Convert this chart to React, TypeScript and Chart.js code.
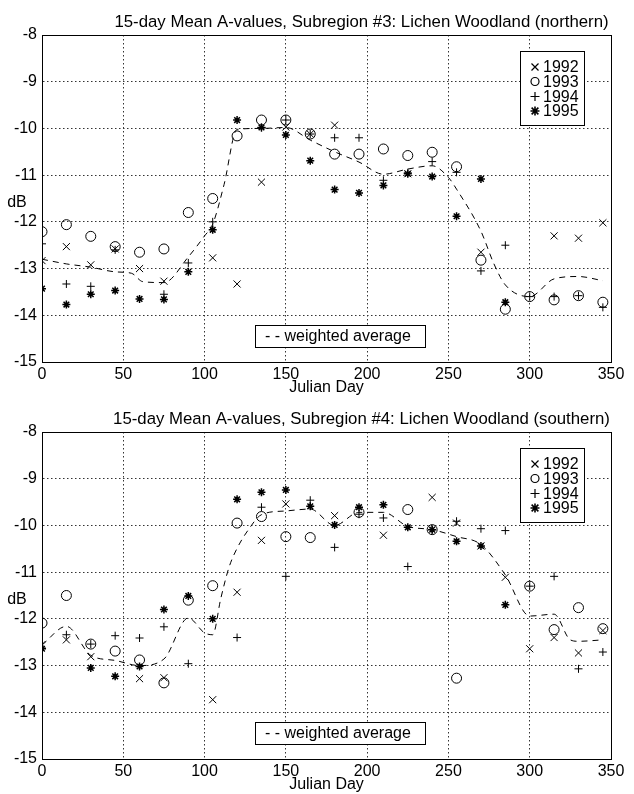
import React, { useEffect, useRef } from "react";
import { Chart, registerables } from "chart.js";
Chart.register(...registerables);

const FONT = '"Liberation Sans", Arial, Helvetica, sans-serif';

const DAYS = [0, 15, 30, 45, 60, 75, 90, 105, 120, 135, 150, 165, 180, 195, 210, 225, 240, 255, 270, 285, 300, 315, 330, 345];
const X_TICKS = [0, 50, 100, 150, 200, 250, 300, 350];
const Y_TICKS = [-8, -9, -10, -11, -12, -13, -14, -15];
const YEARS = ["1992", "1993", "1994", "1995"];

const TITLE_3 = "15-day Mean A-values, Subregion #3: Lichen Woodland (northern)";
const TITLE_4 = "15-day Mean A-values, Subregion #4: Lichen Woodland (southern)";

// Subregion #3
const S3_1992 = [-12.83, -12.53, -12.92, -12.58, -13.0, -13.27, null, -12.77, -13.33, -11.15, -9.97, -10.12, -9.93, null, null, -10.97, null, null, -12.65, null, null, -12.3, -12.35, -12.02];
const S3_1993 = [-12.21, -12.06, -12.31, -12.53, -12.65, -12.58, -11.8, -11.5, -10.16, -9.82, -9.82, -10.12, -10.55, -10.55, -10.44, -10.58, -10.51, -10.82, -12.82, -13.87, -13.6, -13.67, -13.58, -13.72];
const S3_1994 = [-12.47, -13.33, -13.38, -12.6, null, -13.55, -12.88, -12.0, null, -9.98, -9.82, -10.12, -10.2, -10.2, -11.11, -10.95, -10.71, -10.94, -13.05, -12.5, -13.6, -13.6, -13.58, -13.83];
const S3_1995 = [-13.43, -13.77, -13.55, -13.47, -13.65, -13.66, -13.07, -12.17, -9.82, -9.98, -10.14, -10.69, -11.31, -11.38, -11.22, -10.97, -11.03, -11.88, -11.08, -13.72, null, null, null, null];
const S3_AVG_DAYS = [0, 15, 30, 45, 55, 62, 75, 90, 100, 105, 112, 120, 135, 150, 165, 180, 195, 210, 225, 240, 250, 255, 270, 278, 285, 300, 315, 330, 345];
const S3_AVG = [-12.8, -12.9, -12.97, -13.07, -13.1, -13.28, -13.3, -12.75, -12.3, -12.05, -11.2, -10.02, -10.0, -9.98, -10.25, -10.5, -10.72, -10.98, -10.87, -10.8, -11.05, -11.3, -12.2, -12.9, -13.35, -13.6, -13.22, -13.17, -13.26];

// Subregion #4
const S4_1992 = [-12.55, -12.45, -12.81, null, -13.28, -13.26, null, -13.73, -11.43, -10.32, -9.54, null, -9.79, null, -10.21, null, -9.4, -9.95, -10.44, -11.11, -12.64, -12.4, -12.73, -12.25];
const S4_1993 = [-12.09, -11.5, -12.54, -12.69, -12.88, -13.37, -11.6, -11.29, -9.95, -9.81, -10.24, -10.26, null, -9.72, null, -9.66, -10.09, -13.27, null, null, -11.3, -12.23, -11.76, -12.21];
const S4_1994 = [null, -12.34, -12.54, -12.36, -12.41, -12.17, -12.96, null, -12.4, -9.61, -11.09, -9.46, -10.47, -9.76, -9.84, -10.88, -10.09, -9.91, -10.07, -10.11, -11.3, -11.09, -13.07, -12.71];
const S4_1995 = [-12.64, null, -13.05, -13.23, -13.02, -11.8, -11.51, -12.0, -9.44, -9.29, -9.24, -9.59, -9.99, -9.61, -9.56, -10.04, -10.09, -10.34, -10.44, -11.7, null, null, null, null];
const S4_AVG_DAYS = [0, 15, 30, 45, 60, 75, 90, 100, 105, 110, 115, 120, 127, 135, 150, 165, 180, 195, 210, 225, 240, 255, 270, 285, 300, 315, 325, 330, 345];
const S4_AVG = [-12.56, -12.16, -12.78, -12.89, -13.0, -12.86, -11.98, -12.3, -12.34, -11.56, -10.9, -10.49, -10.09, -9.77, -9.69, -9.65, -10.0, -9.72, -9.72, -10.02, -10.09, -10.24, -10.41, -11.06, -11.94, -11.9, -12.45, -12.48, -12.45];

const STYLES = ["crossRot", "circle", "cross", "star"];
const RADII = [5, 5, 4, 4];

function drawMarker(ctx: CanvasRenderingContext2D, style: string, x: number, y: number, r: number) {
  ctx.beginPath();
  if (style === "circle") {
    ctx.arc(x, y, r, 0, Math.PI * 2);
  } else {
    if (style === "cross" || style === "star") {
      ctx.moveTo(x - r, y); ctx.lineTo(x + r, y);
      ctx.moveTo(x, y - r); ctx.lineTo(x, y + r);
    }
    if (style === "crossRot" || style === "star") {
      const d = style === "star" ? r * 0.75 : r;
      ctx.moveTo(x - d, y - d); ctx.lineTo(x + d, y + d);
      ctx.moveTo(x - d, y + d); ctx.lineTo(x + d, y - d);
    }
  }
  ctx.stroke();
}

const decor = {
  id: "decor",
  afterDraw(chart: any, _args: any, opts: any) {
    const { ctx, chartArea: a } = chart;
    ctx.save();
    ctx.setLineDash([]);
    ctx.strokeStyle = "#000";
    ctx.lineWidth = 1;
    const L = Math.round(a.left) + 0.5, T = Math.round(a.top) + 0.5;
    const R = Math.round(a.right) + 0.5, B = Math.round(a.bottom) + 0.5;
    ctx.strokeRect(L, T, R - L, B - T);

    ctx.fillStyle = "#000";
    ctx.font = `16.8px ${FONT}`;
    ctx.textAlign = "center";
    ctx.textBaseline = "middle";
    ctx.fillText(opts.title, 361.5, 22);

    ctx.font = `16px ${FONT}`;
    ctx.fillText("dB", 17, 203);

    // year legend
    ctx.fillStyle = "#fff";
    ctx.fillRect(520.5, 51.5, 64, 74);
    ctx.strokeRect(520.5, 51.5, 64, 74);
    const rows = [67, 81.5, 96.5, 111];
    ctx.fillStyle = "#000";
    ctx.textAlign = "left";
    YEARS.forEach((yr, i) => {
      ctx.lineWidth = i === 3 ? 1.6 : 1.2;
      const r = i === 0 ? 3.5 : i === 1 ? 4 : 4.5;
      drawMarker(ctx, STYLES[i], 535, rows[i], r);
      ctx.fillText(yr, 543, rows[i] + 1);
    });

    // weighted average legend
    ctx.lineWidth = 1;
    ctx.fillStyle = "#fff";
    ctx.fillRect(255.5, 325.5, 170, 22);
    ctx.strokeRect(255.5, 325.5, 170, 22);
    ctx.fillStyle = "#000";
    ctx.fillText("- - weighted average", 265, 337);
    ctx.restore();
  },
};

function makeConfig(title: string, series: (number | null)[][], avgDays: number[], avgVals: number[]) {
  const datasets: any[] = series.map((vals, i) => ({
    type: "scatter",
    label: YEARS[i],
    data: DAYS.map((d, j) => (vals[j] == null ? null : { x: d, y: vals[j] })).filter((p) => p),
    pointStyle: STYLES[i],
    pointRadius: RADII[i],
    pointBorderColor: "#000",
    pointBackgroundColor: "rgba(0,0,0,0)",
    pointBorderWidth: i === 3 ? 1.5 : 1,
    showLine: false,
  }));
  datasets.push({
    type: "line",
    label: "weighted average",
    data: avgDays.map((d, j) => ({ x: d, y: avgVals[j] })),
    borderColor: "#000",
    borderWidth: 1,
    borderDash: [6, 5],
    pointRadius: 0,
    fill: false,
    cubicInterpolationMode: "monotone",
  });
  const tickFont = { family: FONT, size: 16 };
  return {
    type: "scatter",
    data: { datasets },
    options: {
      animation: false,
      responsive: false,
      devicePixelRatio: 1,
      layout: { padding: { left: 0, right: 23, top: 35, bottom: 0 } },
      plugins: { legend: { display: false }, tooltip: { enabled: false }, decor: { title } },
      scales: {
        x: {
          type: "linear",
          min: 0,
          max: 350,
          afterBuildTicks: (s: any) => { s.ticks = X_TICKS.map((v) => ({ value: v })); },
          afterFit: (s: any) => { s.height = 35; },
          grid: { color: "#333", lineWidth: 1, drawTicks: false },
          border: { display: true, color: "#000", width: 1, dash: [1.5, 2.5] },
          ticks: { color: "#000", font: tickFont, padding: 3, maxRotation: 0, autoSkip: false },
          title: { display: true, text: "Julian Day", color: "#000", font: tickFont, padding: { top: 0, bottom: 0 } },
        },
        y: {
          type: "linear",
          min: -15,
          max: -8,
          afterBuildTicks: (s: any) => { s.ticks = Y_TICKS.map((v) => ({ value: v })); },
          afterFit: (s: any) => { s.width = 42; },
          grid: { color: "#333", lineWidth: 1, drawTicks: false },
          border: { display: true, color: "#000", width: 1, dash: [1.5, 2.5] },
          ticks: { color: "#000", font: tickFont, padding: 5, autoSkip: false },
        },
      },
    },
    plugins: [decor],
  };
}

function Panel({ which }: { which: number }) {
  const ref = useRef<HTMLCanvasElement | null>(null);
  useEffect(() => {
    const cfg =
      which === 3
        ? makeConfig(TITLE_3, [S3_1992, S3_1993, S3_1994, S3_1995], S3_AVG_DAYS, S3_AVG)
        : makeConfig(TITLE_4, [S4_1992, S4_1993, S4_1994, S4_1995], S4_AVG_DAYS, S4_AVG);
    const chart = new Chart(ref.current as HTMLCanvasElement, cfg as any);
    return () => chart.destroy();
  }, [which]);
  return <canvas ref={ref} width={634} height={397} style={{ display: "block", width: 634, height: 397 }} />;
}

export default function App() {
  return (
    <div style={{ position: "absolute", left: 0, top: 0, width: 634, height: 794, background: "#fff" }}>
      <Panel which={3} />
      <Panel which={4} />
    </div>
  );
}
